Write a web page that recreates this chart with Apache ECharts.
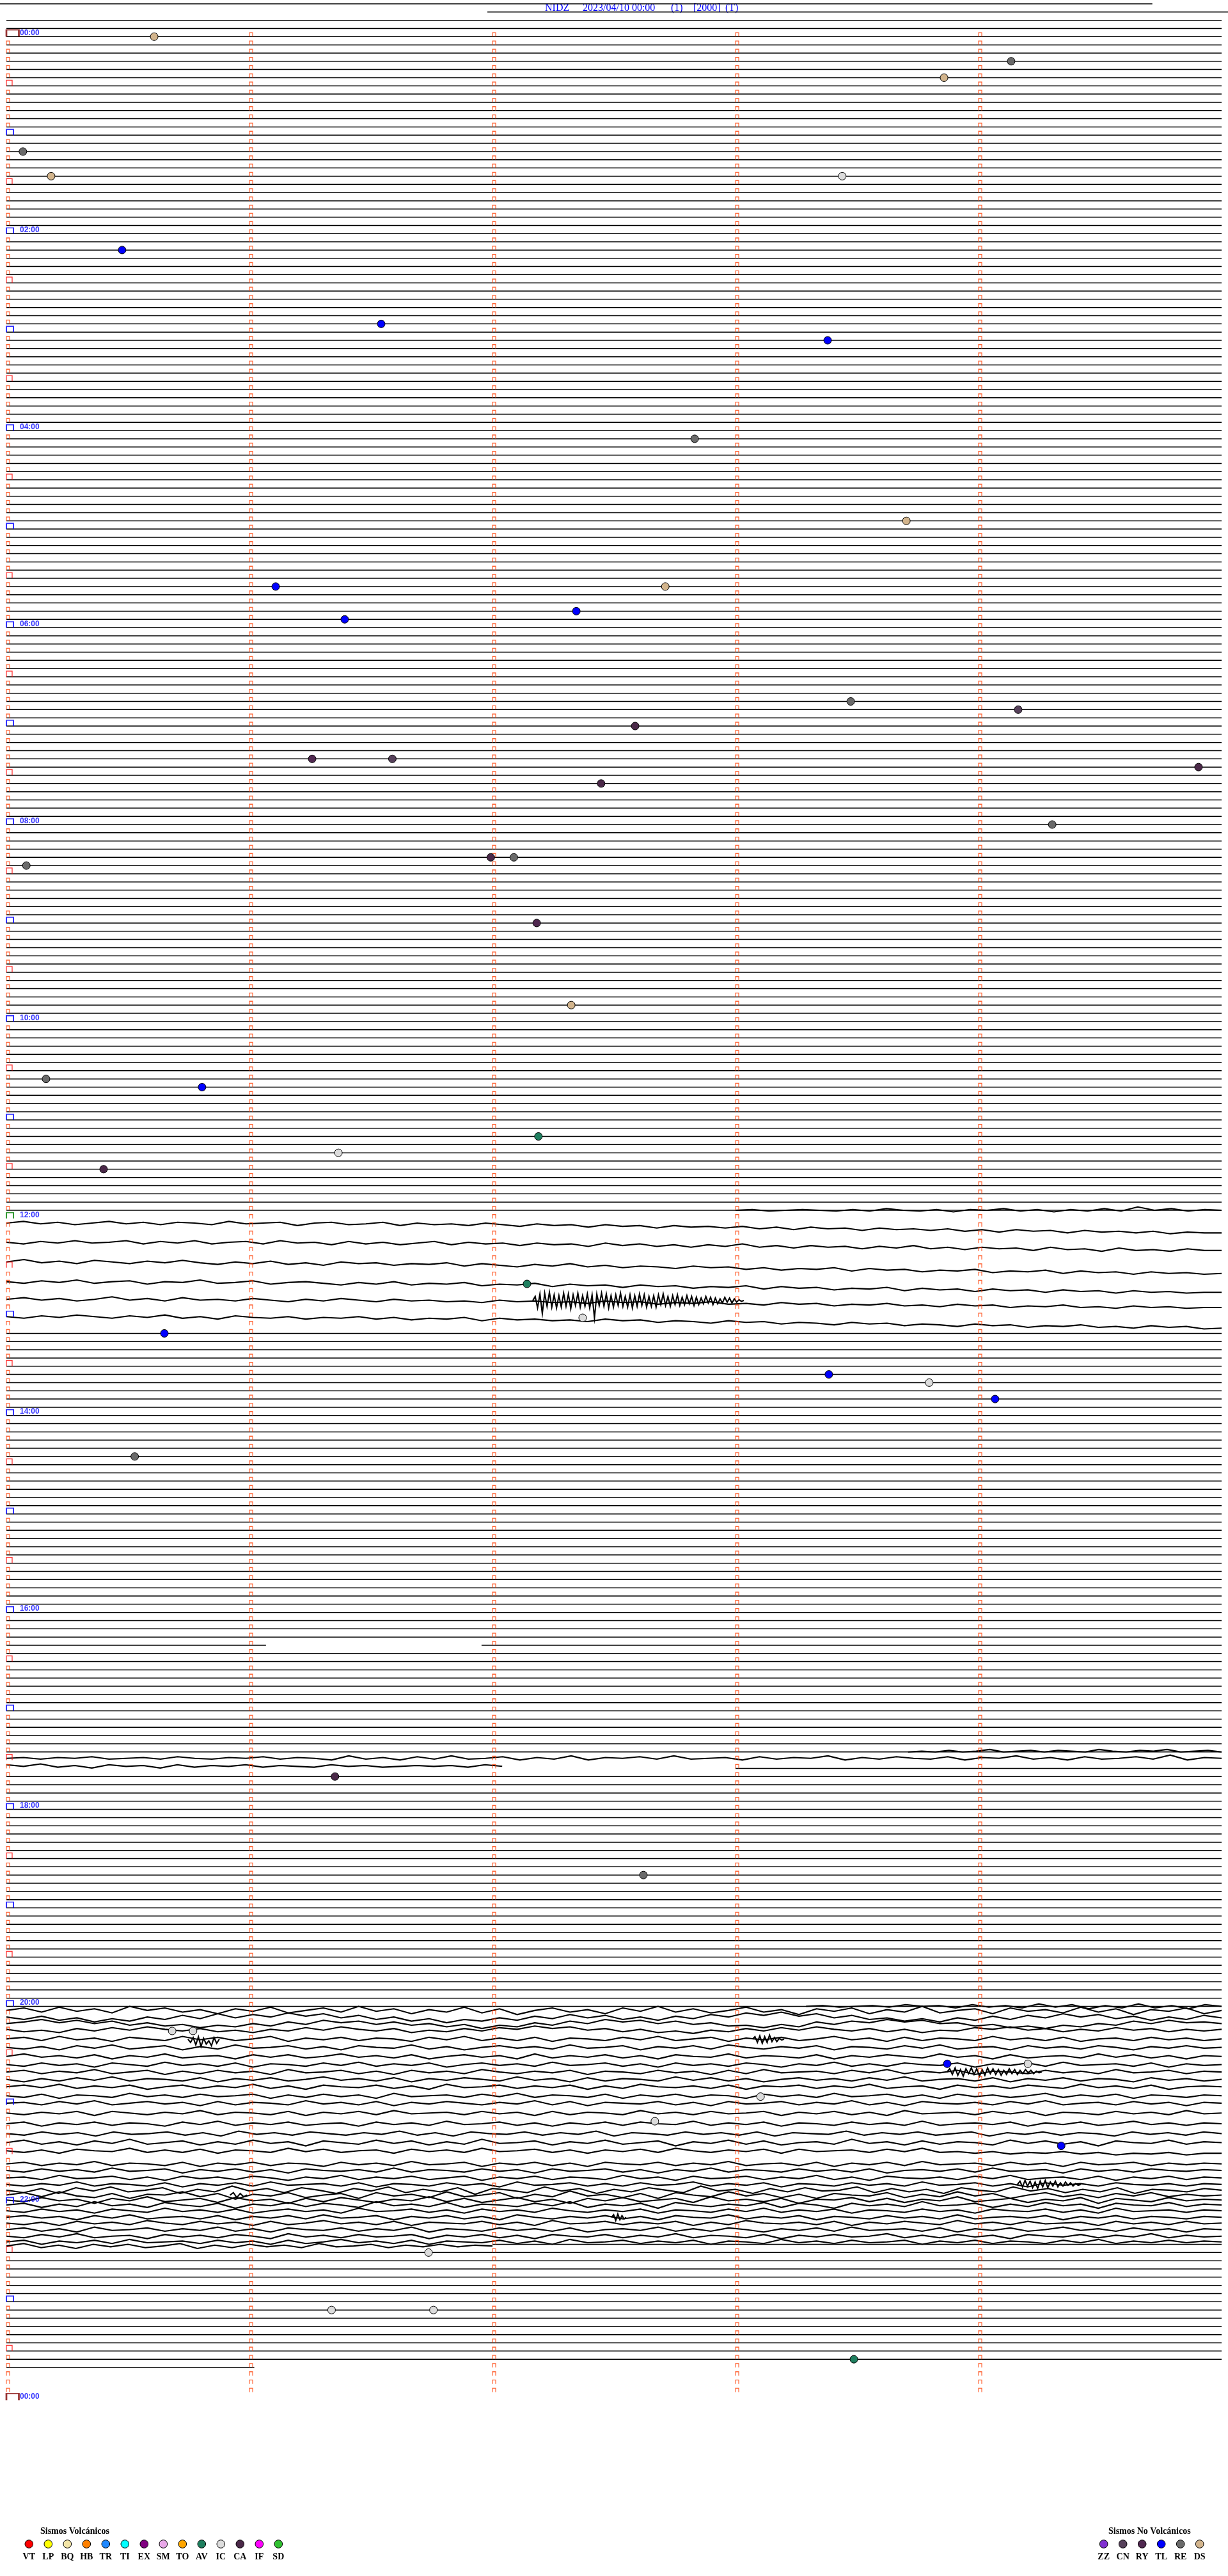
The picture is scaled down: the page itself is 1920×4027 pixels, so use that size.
<!DOCTYPE html>
<html><head><meta charset="utf-8">
<script src="https://cdn.jsdelivr.net/npm/echarts@6/dist/echarts.min.js"></script>
<style>html,body{margin:0;padding:0;background:#fff;}#c{width:1920px;height:4027px;}</style>
</head><body><div id="c"></div>
<script>
// ---------------- DATA ----------------
const titleParts = ['NIDZ', '2023/04/10 00:00', '(1)', '[2000]', '(T)'];
const hourLabels = ['00:00','02:00','04:00','06:00','08:00','10:00','12:00','14:00','16:00','18:00','20:00','22:00','00:00'];
const minuteTicks = [0, 1, 2, 3, 4];
const rowsPerDay = 288;

// header rows drawn above the first record [row, fromMin, toMin]
const headerLines = [[-4, -0.0263, 4.715], [-3, 1.979, 5.0263]];
// rows whose flat line is replaced by a wave trace
const waveOnlyRanges = [[144, 157], [210, 211], [241, 269]];
// flat line pieces [row, fromMin, toMin]
const partialFlats = [[196, 0, 1.068], [196, 1.955, 5], [211, 3.0, 5], [269, 2.0, 5], [284, 0, 1.02]];

// events
const eventRow = [0,3,5,14,17,17,26,35,37,49,59,67,67,70,71,81,82,84,88,88,89,91,96,100,100,101,108,118,127,128,134,136,138,151.97,156.1,158,163,164,166,173,212,224,243,243,247,247,251,254,257,270,277,277,283];
const eventMin = [0.608,4.134,3.858,0.068,0.184,3.439,0.476,1.542,3.379,2.832,3.703,1.108,2.711,2.345,1.392,3.474,4.163,2.587,1.258,1.588,4.905,2.447,4.303,1.993,2.088,0.082,2.182,2.324,0.163,0.805,2.189,1.366,0.4,2.142,2.371,0.65,3.384,3.797,4.068,0.528,1.352,2.621,0.682,0.768,3.871,4.203,3.103,2.668,4.34,1.737,1.338,1.757,3.487];
const eventType = ['DS','RE','DS','RE','DS','IC','TL','TL','TL','RE','DS','TL','DS','TL','TL','RE','CN','CA','RY','CN','CA','CA','RE','CA','RE','RE','RY','DS','RE','TL','AV','IC','CA','AV','IC','TL','TL','IC','TL','RE','CA','RE','IC','IC','TL','IC','IC','IC','TL','IC','IC','IC','AV'];

const volcCodes = ['VT','LP','BQ','HB','TR','TI','EX','SM','TO','AV','IC','CA','IF','SD'];
const volcColors = ['#ff0000','#ffff00','#f2e4a6','#ff8000','#1e88ff','#00ffff','#800080','#e8a8e8','#ffa500','#1f7f5f','#dcdcdc','#4a2848','#ff00ff','#30c030'];
const nonVolcCodes = ['ZZ','CN','RY','TL','RE','DS'];
const nonVolcColors = ['#8030d0','#56405a','#502850','#0000ff','#6a6a6a','#d2b48c'];

// full-width wave traces: centre row and samples (tenths of a row)
const fullWaveCenters = [144.56,146.9,149.3,151.7,153.85,155.96, 209.78,
  240.5,241.3,242.1,242.8,
  243.97,245.0,246.1,247.1,248.0,248.9,249.8,250.9,251.8,253.0,254.3,255.5,256.6,257.6,
  259.2,260.0,260.9,261.7,262.4,263.0,263.6,264.2,264.9,265.7,266.4,267.2,268.0,268.7];
const fullWaveVals = [
 [0,-2,1,-1,2,0,-2,1,-1,2,-1,0,2,-2,1,0,-1,3,0,-1,2,1,-1,3,0,2,1,3,0,2,4,1,3,2,5,2,4,3,6,3,5,4,6,4,7,5,8,5,7,6,9,6,8,7,9,7,10,8,11,8,10,9,12,9,11,10,12,10,13,11,12,12],
 [0,2,-1,1,-2,1,0,-2,2,-1,1,-2,2,0,-1,2,-2,1,0,3,-1,2,0,3,1,-1,3,0,2,1,4,1,3,2,5,1,4,2,5,3,6,3,5,2,6,4,7,4,6,5,8,5,7,4,8,6,9,6,8,7,10,6,9,8,11,7,10,9,11,8,10,10],
 [0,-3,1,-1,2,-2,0,2,-1,1,-2,1,3,0,2,-1,3,1,4,0,2,1,4,2,3,1,5,2,4,6,3,5,2,6,4,7,5,6,8,5,7,6,9,7,10,8,9,7,11,8,10,9,12,10,11,9,13,11,12,10,14,11,13,12,15,12,14,13,15,14],
 [0,2,-1,1,-2,2,0,-1,3,0,1,-2,2,1,-1,3,1,0,2,4,1,3,0,4,2,3,1,5,3,4,2,6,3,5,4,7,4,6,5,8,6,7,5,9,6,8,7,10,8,9,7,11,8,10,9,12,9,11,10,13,10,12,11,14,11,13,12,14,13,13],
 [0,-2,1,-1,2,0,-3,1,-1,2,-2,1,0,2,-1,1,3,0,2,-1,1,3,0,2,1,3,2,4,1,3,2,4,3,5,2,4,3,6,4,5,3,6,5,7,4,6,5,8,6,7,5,8,7,9,6,8,7,10,8,9,7,10,9,11,8,10,9,11,10,10],
 [0,2,-1,1,-2,0,2,-1,1,-2,2,0,3,-1,1,2,0,3,1,2,0,3,1,4,2,3,1,5,2,4,3,5,4,6,3,5,4,7,5,6,8,5,7,6,9,7,8,10,7,9,8,11,9,10,12,9,11,10,13,11,12,10,13,12,14,11,13,12,15,14],
 [0,-1,1,-1,0,-2,1,0,-1,1,-2,0,1,-1,0,-2,1,-1,0,2,-3,1,-1,2,-2,1,-3,1,0,-2,2,-1,1,-3,2,-1,0,-2,1,-3,1,0,-1,2,-2,1,-1,0,-3,2,-1,1,-2,0,1,-2,2,-1,0,-3,1,-1,2,-2,1,0,-2,1,-4,2,-1,0],
 [0,-3,2,-4,1,-2,3,-5,0,-3,2,-1,4,-2,1,-4,3,0,-3,2,-5,1,-2,4,-1,2,-4,3,-2,5,0,-3,2,-1,4,-3,1,-5,2,-2,3,0,-4,2,-1,5,-2,1,-3,4,-1,2,-5,3,0,-2,4,-3,1,-1,3,-4,2,-2,5,-1,1,-3,4,0],
 [0,3,-1,4,1,6,2,5,0,3,-2,2,-4,1,-3,0,-5,-1,-4,1,-2,3,0,5,2,7,3,5,1,4,-1,2,-3,1,-2,3,0,4,-1,2,-3,0,-5,-2,-6,-1,-4,1,-2,3,1,5,2,6,1,4,-1,3,-2,1,-4,0,-3,2,-1,4,0,3,-2,1],
 [0,-2,-5,-1,-4,0,-3,2,-1,3,1,5,2,4,0,3,-2,1,-4,-1,-3,1,-2,2,0,4,1,6,2,4,-1,2,-3,0,-5,-2,-4,0,-3,1,-1,3,2,5,1,4,-2,1,-3,-1,-5,-2,-4,0,-1,3,1,5,3,6,2,4,0,2,-3,0,-4,-1,-2,0],
 [0,3,1,4,-1,2,-2,1,-3,0,2,-1,3,1,4,0,2,-2,1,-3,0,2,-1,4,1,3,-1,2,-2,0,-4,-1,-3,1,-1,3,0,4,2,5,1,3,-1,2,-2,1,-3,0,2,-1,3,0,4,1,2,-2,0,-3,1,-1,3,0,2,-2,1,-1,3,0,2,0],
 [0,-2,2,-3,1,-1,3,-2,0,2,-3,1,-2,2,0,-3,3,-1,1,-2,2,-1,0,3,-2,1,-3,2,-1,2,-2,3,-1,0,2,-2,1,-3,2,0,-2,3,-1,1,-2,2,0,-3,1,-1,3,-2,2,-1,0,2,-3,1,-1,2,-2,3,0,-1,2,-2,1,-1,2,0],
 [0,2,-1,3,-2,1,-3,2,0,-2,3,-1,2,-3,1,0,-2,2,-1,3,-2,0,1,-3,2,-1,3,0,-2,1,-1,2,-3,1,0,-2,3,-1,1,-2,2,-3,0,2,-1,1,-2,3,-1,0,2,-2,1,-3,2,0,-1,3,-2,1,-1,2,-2,0,3,-1,1,-2,1,0],
 [0,-3,1,-1,2,-2,3,-1,1,-3,2,0,-1,3,-2,1,-2,2,0,-3,1,-1,2,-2,3,0,-2,1,-1,3,-3,2,-1,1,-2,2,-1,3,-2,0,1,-3,2,-1,0,2,-2,3,-1,1,-2,0,2,-3,1,-1,3,-2,2,0,-1,2,-3,1,-2,2,-1,3,-1,0],
 [0,2,-2,1,-1,3,-2,0,2,-3,1,-1,2,-2,3,-1,0,2,-2,1,-3,2,-1,1,-2,3,0,-2,1,-1,2,-3,1,0,-2,2,-1,3,-2,1,-1,2,-2,0,3,-1,1,-3,2,-1,2,-2,0,1,-2,3,-1,1,-2,2,-3,1,0,-1,2,-2,3,-1,1,0],
 [0,-2,2,-1,1,-3,2,0,-2,3,-1,2,-2,1,-1,3,-3,1,0,-2,2,-1,3,-2,1,-1,2,-3,0,2,-1,1,-2,3,-1,0,2,-2,1,-1,3,-2,2,-3,1,0,-1,2,-2,1,-3,2,-1,1,-2,3,-1,0,2,-2,1,-1,2,-3,1,0,-2,2,-1,0],
 [0,3,-1,2,-2,1,-3,2,-1,0,2,-2,3,-1,1,-2,2,0,-3,1,-1,2,-2,3,-1,1,-2,0,2,-3,1,-1,3,-2,2,-1,0,2,-3,1,-2,2,-1,3,0,-2,1,-1,2,-2,1,-3,2,0,-1,2,-2,3,-1,1,-2,2,-1,0,3,-2,1,-1,2,0],
 [0,-2,1,-3,2,-1,1,-2,3,0,-2,2,-1,1,-3,2,-1,3,-2,0,1,-2,2,-1,3,-3,1,0,-2,2,-1,1,-2,3,-1,2,-3,0,1,-1,2,-2,3,-1,0,-2,2,-1,1,-3,2,0,-1,3,-2,1,-1,2,-2,0,2,-3,1,-1,2,-2,3,0,-1,0],
 [0,2,-2,3,-1,0,2,-3,1,-1,2,-2,1,0,-2,3,-1,2,-2,1,-1,3,-3,1,0,-1,2,-2,1,-3,2,-1,0,2,-2,3,-1,1,-2,2,-1,0,3,-2,1,-1,2,-3,1,0,-2,2,-1,3,-2,1,-1,2,0,-3,2,-1,1,-2,3,-1,0,2,-1,0],
 [0,-1,2,-2,1,-3,2,0,-2,1,-1,3,-2,2,-1,0,2,-3,1,-1,2,-2,3,-1,1,-2,0,2,-1,1,-3,2,-2,3,-1,0,1,-2,2,-1,3,-2,1,0,-2,2,-1,1,-3,2,-1,3,-2,0,1,-1,2,-2,1,-3,2,0,-1,2,-2,1,-1,3,-1,0],
 [0,2,-1,1,-2,3,-2,0,2,-1,1,-3,2,-1,0,2,-2,3,-1,1,-2,2,-3,1,0,-1,2,-2,1,-1,3,-2,2,-1,0,2,-3,1,-1,2,-2,1,0,-2,3,-1,1,-2,2,-1,3,-3,1,0,-1,2,-2,1,-2,3,-1,0,2,-2,1,-1,2,-3,1,0],
 [0,-2,3,-1,1,-2,2,-1,0,3,-2,1,-3,2,-1,1,-2,2,0,-1,3,-2,1,-1,2,-3,1,0,-2,2,-1,3,-1,1,-2,2,-2,0,1,-3,2,-1,1,-2,3,-1,0,2,-2,1,-1,2,-3,2,0,-1,1,-2,3,-1,1,-2,2,0,-3,1,-1,2,-1,0],
 [0,2,-2,1,-1,3,-2,1,0,-2,2,-1,3,-3,1,-1,2,-2,0,2,-1,1,-3,2,-1,3,-2,0,1,-2,2,-1,1,-3,3,-1,0,2,-2,1,-1,2,-2,3,-1,0,1,-3,2,-1,1,-2,2,0,-2,3,-1,1,-2,2,-1,0,3,-2,1,-1,2,-2,0],
 [0,-3,2,-1,3,-2,1,-4,2,0,-2,3,-1,2,-3,1,-1,4,-2,0,2,-3,1,-2,3,-1,2,-4,1,0,-2,3,-1,1,-3,2,0,-2,4,-1,1,-3,2,-2,3,0,-1,2,-4,1,-1,3,-2,2,-1,0,3,-3,1,-2,2,-1,4,-2,0,1,-3,2,-1,0],
 [0,2,-1,3,-2,0,1,-3,2,-1,2,-2,3,-1,0,2,-3,1,-2,2,0,-1,3,-2,1,-1,2,-3,1,0,-2,2,-1,3,-1,1,-2,2,-3,0,2,-1,1,-2,3,-2,1,0,-1,2,-2,1,-3,2,1,3,1,4,2,3,1,4,2,5,3,4,2,5,3,3],
 [0,-2,2,-1,1,-3,2,-1,0,2,-2,3,-1,1,-2,2,-1,0,3,-2,1,-1,2,-3,1,0,-2,3,-1,1,-2,2,-1,3,-2,0,1,-2,2,-1,1,-3,2,0,-1,2,-2,3,-1,1,-2,2,-3,1,0,-1,2,-2,1,-1,3,-2,1,0,-2,2,-1,1,-1,0],
 [0,2,-2,1,-1,2,-3,1,0,-2,3,-1,1,-2,2,-1,3,-2,0,1,-1,2,-3,2,-1,0,2,-2,1,-1,3,-2,1,0,-2,2,-1,3,-1,1,-3,2,-1,0,2,-2,1,-1,2,-2,3,0,-1,1,-2,2,-3,1,0,-1,3,-2,1,-1,2,-2,0,1,-1,0],
 [0,-1,2,-3,1,0,-2,2,-1,3,-2,1,-1,2,-2,0,3,-1,1,-3,2,-1,1,-2,2,0,-2,3,-1,1,-2,2,-1,0,2,-3,1,-1,3,-2,1,0,-2,2,-1,1,-3,2,-1,3,-2,0,1,-1,2,-2,1,-3,2,0,-1,2,-2,3,-1,1,-2,2,-1,0],
 [0,2,-1,1,-3,2,-1,0,2,-2,3,-1,1,-2,2,-3,1,0,-1,2,-2,3,-1,0,2,-2,1,-1,3,-3,1,0,-2,2,-1,2,-2,1,0,-3,2,-1,1,-2,3,-1,0,2,-2,1,-1,2,-3,1,0,-2,2,-1,3,-2,1,-1,2,-2,0,1,-1,2,-1,0],
 [0,3,-2,4,-3,1,-4,2,0,-3,4,-1,2,-5,1,-2,3,-3,0,4,-2,1,-4,3,-1,2,-3,5,-2,0,3,-4,1,-2,4,-1,2,-3,0,3,-5,1,-1,4,-2,2,-3,1,0,-4,3,-2,2,-1,4,-3,0,2,-4,1,-2,3,-1,2,-3,4,-1,0,2,-2,0],
 [0,-3,2,-4,1,3,-2,4,-1,0,-4,2,-2,5,-1,1,-3,3,0,-2,4,-3,1,-1,3,-4,2,0,-3,4,-1,2,-5,1,-1,3,-2,4,-3,0,2,-4,1,-2,3,-1,4,-2,0,1,-3,3,-1,2,-4,1,-2,4,0,-3,2,-1,3,-2,1,-3,2,-1,1,0],
 [0,2,-3,1,-1,4,-2,1,-4,2,0,-2,3,-3,1,-1,4,-2,2,-3,0,3,-1,1,-4,2,-2,3,0,-3,2,-1,4,-2,1,-3,2,0,-2,3,-4,1,-1,2,-2,4,-1,0,-3,2,-2,3,-1,1,-4,2,0,-2,3,-1,1,-3,4,-2,0,2,-3,1,-1,0],
 [0,-2,3,-1,2,-4,1,-1,3,-3,0,2,-2,4,-1,1,-3,2,-2,0,3,-4,1,-1,2,-3,3,-1,0,2,-2,1,-4,3,-1,1,-2,4,-3,0,2,-1,1,-3,3,-2,0,4,-2,1,-1,2,-4,1,0,-2,3,-1,2,-3,1,-1,4,-2,0,1,-3,2,-1,0],
 [0,2,-2,1,-1,3,-2,0,2,-3,1,-1,2,-2,3,0,-2,1,-1,3,-3,1,0,-2,2,-1,3,-2,1,-1,2,-3,0,2,-1,1,-2,3,-1,0,2,-2,1,-3,2,-1,1,-2,3,-1,0,2,-2,1,-1,3,-2,0,1,-2,2,-1,3,-3,1,0,-1,2,-1,0],
 [0,-2,1,-1,3,-2,1,-3,2,0,-1,2,-2,3,-1,1,-2,2,-3,1,0,-2,3,-1,1,-2,2,-1,3,-3,0,2,-1,1,-2,2,-1,3,-2,0,1,-3,2,-1,1,-2,3,-1,0,2,-2,1,-1,2,-3,2,0,-1,1,-2,3,-1,1,-2,2,-1,0,2,-1,0],
 [0,2,-1,3,-2,1,-1,2,-3,0,2,-2,1,-1,3,-2,2,0,-3,1,-1,2,-2,3,-1,0,1,-2,2,-1,3,-3,1,0,-2,2,-1,1,-2,3,-1,2,-3,0,1,-1,2,-2,3,-1,1,-2,0,2,-3,1,-1,2,-2,1,0,-1,3,-2,1,-1,2,-2,1,0],
 [0,-2,2,-1,3,-3,1,0,-2,2,-1,1,-3,2,-1,3,-2,0,1,-2,2,-1,1,-3,3,-1,0,2,-2,1,-1,2,-2,3,0,-1,1,-3,2,-1,2,-2,0,3,-1,1,-2,2,-3,1,0,-1,2,-2,3,-1,1,-2,2,0,-3,1,-1,2,-2,1,-1,3,-1,0],
 [0,2,-2,1,-3,2,0,-1,3,-2,1,-1,2,-2,0,3,-3,1,-1,2,-2,1,0,-2,3,-1,1,-2,2,-1,3,-2,0,1,-2,2,-1,1,-3,2,-1,0,2,-2,3,-1,1,-2,1,0,-3,2,-1,2,-2,1,-1,3,-2,0,1,-2,2,-1,1,-3,2,-1,1,0],
 [0,-2,3,-1,1,-2,2,-3,1,0,-1,2,-2,1,-1,3,-2,2,0,-3,1,-1,2,-2,3,-1,0,1,-2,2,-1,3,-3,1,0,-2,2,-1,1,-2,3,-1,0,2,-3,1,-1,2,-2,1,0,-2,3,-1,1,-2,2,-1,0,2,-2,1,-3,2,-1,1,-2,1,-1,0]
];

// partial traces, overlays and bursts: centre row, from/to minute, samples
const segCenters = [210.76, 269.2, 143, 209, 240, 154.0, 244.0, 244.0, 248.0, 261.7, 263.0, 265.7];
const segFrom = [0, 0, 3.0, 3.71, 3.29, 2.166, 0.747, 3.07, 3.87, 4.16, 0.92, 2.49];
const segTo = [2.04, 2.0, 5.0, 5.0, 5.0, 3.034, 0.876, 3.2, 4.26, 4.42, 0.99, 2.55];
const segVals = [
 [-2,0,-3,1,-1,2,-2,0,-1,2,-2,1,-1,0,-2,1,-1,0,1,-2,0,-1,1,0,-1,0,-1,1,-2,0],
 [0,-3,2,-1,3,-2,1,-2,2,0,-3,3,-1,2,-2,1,-1,2,-3,1,0,-2,2,-1,1,-2,1,-1,0],
 [0,-1,1,0,-1,0,1,-1,1,-2,0,1,-1,2,-1,0,-2,1,-1,2,-1,1,-2,1,-4,0,-2,1,-1,0],
 [0,-1,0,-2,0,-1,-3,0,-1,-2,0,-2,-1,0,-3,-1,0,-2,-1,-3,0,-1,-2,0],
 [0,-1,1,0,-1,1,-2,0,-1,2,-2,1,-1,2,-3,1,-2,3,-1,2,-3,2,-1,3,-2,0],
 [0,-5,9,-8,16,-9,7,-10,8,-7,9,-6,8,-9,7,-8,10,-7,6,-9,8,-6,7,-8,9,-7,21,-8,6,-9,7,-8,9,-6,8,-7,6,-9,7,-5,8,-7,9,-6,7,-8,6,-7,8,-5,7,-6,8,-7,5,-8,6,-5,7,-6,5,-7,6,-4,5,-6,4,-5,6,-4,5,-3,4,-5,3,-4,5,-3,4,-2,3,-4,2,-3,3,-2,2,-1,1,0],
 [0,4,-2,7,-3,9,-1,6,2,8,-2,5,0],
 [0,-3,4,-4,5,-3,4,-5,3,-2,3,-1,1,0],
 [0,-4,3,-5,4,-3,5,-4,2,-5,3,-4,5,-3,4,-5,2,-4,3,-3,4,-2,3,-4,2,-3,3,-2,2,-3,1,-2,2,-1,1,0],
 [0,-4,3,-5,2,-4,4,-3,5,-4,3,-5,4,-3,2,-4,3,-2,2,-3,1,-2,2,-1,1,0],
 [0,-3,3,-2,2,0],
 [0,-3,4,-4,3,-2,2,0]
];

// ---------------- BUILD ----------------
const WAVE_UNIT = 0.1;
const typeColor = {};
volcCodes.forEach((c, i) => typeColor[c] = volcColors[i]);
nonVolcCodes.forEach((c, i) => typeColor[c] = nonVolcColors[i]);

function traceCoords(center, from, to, vals) {
  const n = vals.length, out = [];
  for (let i = 0; i < n; i++) out.push([from + (to - from) * i / (n - 1), center + vals[i] * WAVE_UNIT]);
  return out;
}

const excluded = new Set();
waveOnlyRanges.forEach(([a, b]) => { for (let r = a; r <= b; r++) excluded.add(r); });
partialFlats.forEach(p => excluded.add(p[0]));

const flatData = [];
headerLines.forEach(([r, a, b]) => flatData.push({coords: [[a, r], [b, r]]}));
for (let r = -2; r <= 283; r++) if (!excluded.has(r)) flatData.push({coords: [[0, r], [5, r]]});
partialFlats.forEach(([r, a, b]) => flatData.push({coords: [[a, r], [b, r]]}));

const waveData = [];
fullWaveCenters.forEach((c, i) => waveData.push({coords: traceCoords(c, 0, 5, fullWaveVals[i])}));
segCenters.forEach((c, i) => waveData.push({coords: traceCoords(c, segFrom[i], segTo[i], segVals[i])}));

const minuteMarks = [], halfMarks = [], hourMarks = [], noonMarks = [], dayMarks = [];
for (let r = 0; r < rowsPerDay; r++) {
  minuteTicks.forEach(m => {
    if (m === 0 && r % 12 === 0) {
      if (r === 0) dayMarks.push([m, r]);
      else if (r === 144) noonMarks.push([m, r]);
      else hourMarks.push([m, r]);
    } else if (m === 0 && r % 6 === 0) halfMarks.push([m, r]);
    else minuteMarks.push([m, r]);
  });
}
dayMarks.push([0, rowsPerDay]);
const labelData = hourLabels.map((t, i) => ({value: [0, i * 24], name: t}));

const eventData = eventRow.map((r, i) => ({value: [eventMin[i], r], itemStyle: {color: typeColor[eventType[i]]}}));

const BOX = 'path://M0,10L0,0L10,0L10,10';
function markSeries(data, color, size, bw) {
  return {type: 'scatter', data, symbol: BOX, symbolSize: size, symbolOffset: [size[0] / 2, -size[1] / 2],
    itemStyle: {color: 'transparent', borderColor: color, borderWidth: bw}, silent: true, z: 4};
}

// graphics: title + legend
const graphic = [];
const titleX = [852, 911, 1049, 1084, 1134];
titleParts.forEach((t, i) => graphic.push({type: 'text', x: titleX[i], y: 13, style: {text: t, fill: '#0000ff', font: '16px "Liberation Serif"', align: 'left', verticalAlign: 'middle'}}));
function legendGroup(title, titleX, x0, codes, colors) {
  graphic.push({type: 'text', x: titleX, y: 3957, style: {text: title, fill: '#000', font: 'bold 14px "Liberation Serif"', align: 'left', verticalAlign: 'middle'}});
  codes.forEach((c, i) => {
    const cx = x0 + 30 * i;
    graphic.push({type: 'circle', shape: {cx, cy: 3977, r: 6.3}, style: {fill: colors[i], stroke: '#000', lineWidth: 1}});
    graphic.push({type: 'text', x: cx, y: 3997, style: {text: c, fill: '#000', font: 'bold 14px "Liberation Serif"', align: 'center', verticalAlign: 'middle'}});
  });
}
legendGroup('Sismos Volcánicos', 63, 45.3, volcCodes, volcColors);
legendGroup('Sismos No Volcánicos', 1733, 1725.7, nonVolcCodes, nonVolcColors);

const chart = echarts.init(document.getElementById('c'), null, {renderer: 'canvas'});
chart.setOption({
  animation: false,
  backgroundColor: '#ffffff',
  grid: {left: 0, right: 0, top: 0, bottom: 0},
  xAxis: {type: 'value', min: -0.026316, max: 5.026316, show: false},
  yAxis: {type: 'value', inverse: true, min: -4.466, max: 309.41, show: false},
  graphic,
  series: [
    {type: 'lines', coordinateSystem: 'cartesian2d', polyline: true, data: flatData, silent: true, z: 2,
      lineStyle: {color: '#000', width: 1.5, opacity: 1}},
    {type: 'lines', coordinateSystem: 'cartesian2d', polyline: true, data: waveData, silent: true, z: 3,
      lineStyle: {color: '#000', width: 2.1, opacity: 1}},
    markSeries(minuteMarks, '#ff3c00', [5, 6], 1.3),
    markSeries(halfMarks, '#ff0000', [9, 9], 1.3),
    markSeries(hourMarks, '#0000ff', [11, 9], 1.8),
    markSeries(noonMarks, '#008000', [11, 9], 1.8),
    markSeries(dayMarks, '#800000', [19.5, 10.5], 2),
    {type: 'scatter', data: labelData, symbolSize: 0, silent: true, z: 6,
      label: {show: true, position: [21, -5.6], align: 'left', verticalAlign: 'middle', formatter: p => p.name,
        color: '#0000ff', fontFamily: '"Liberation Sans"', fontWeight: 'bold', fontSize: 12}},
    {type: 'scatter', data: eventData, symbol: 'circle', symbolSize: 12, silent: true, z: 5,
      itemStyle: {borderColor: '#000', borderWidth: 1, opacity: 1}}
  ]
});
</script></body></html>
